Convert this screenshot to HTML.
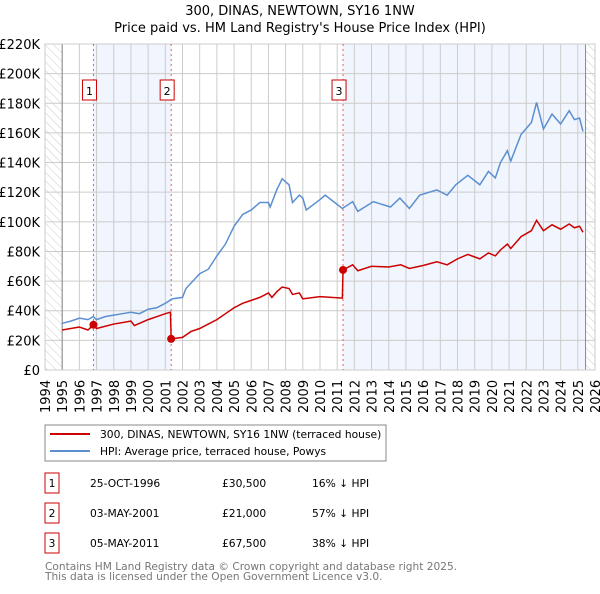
<!DOCTYPE html>
<html><head><meta charset="utf-8"><style>
body{margin:0;background:#fff;font-family:"DejaVu Sans","Liberation Sans",sans-serif;}
svg text{font-family:"DejaVu Sans","Liberation Sans",sans-serif;}
</style></head><body>
<svg id="c" width="600" height="590" xmlns="http://www.w3.org/2000/svg">
<defs><pattern id="hatch" width="6" height="6" patternUnits="userSpaceOnUse" patternTransform="rotate(-45)"><line x1="0" y1="0" x2="0" y2="6" stroke="#ccc" stroke-width="1"/></pattern></defs>
<text x="300" y="15" text-anchor="middle" font-size="13">300, DINAS, NEWTOWN, SY16 1NW</text>
<text x="300" y="32" text-anchor="middle" font-size="13">Price paid vs. HM Land Registry's House Price Index (HPI)</text>
<g id="plot"></g>
<rect x="45" y="425" width="341" height="36" fill="#fff" stroke="#888"/>
<line x1="50" y1="434" x2="90" y2="434" stroke="#cc0000" stroke-width="2"/>
<text x="100" y="438" font-size="10.7">300, DINAS, NEWTOWN, SY16 1NW (terraced house)</text>
<line x1="50" y1="451" x2="90" y2="451" stroke="#5b8fd0" stroke-width="2"/>
<text x="100" y="455" font-size="10.7">HPI: Average price, terraced house, Powys</text>
<g id="tbl" font-size="10.7"></g>
<text x="45" y="570" font-size="10.6" fill="#777">Contains HM Land Registry data © Crown copyright and database right 2025.</text>
<text x="45" y="580" font-size="10.6" fill="#777">This data is licensed under the Open Government Licence v3.0.</text>
</svg>
<script>
const yTicks=[0,20,40,60,80,100,120,140,160,180,200,220];
const years=[1994,1995,1996,1997,1998,1999,2000,2001,2002,2003,2004,2005,2006,2007,2008,2009,2010,2011,2012,2013,2014,2015,2016,2017,2018,2019,2020,2021,2022,2023,2024,2025,2026];
const hpiT=[1995,1995.5,1996,1996.5,1996.8,1997,1997.5,1998,1998.5,1999,1999.5,2000,2000.5,2001,2001.4,2002,2002.2,2002.6,2003,2003.5,2004,2004.5,2005,2005.5,2006,2006.5,2007,2007.1,2007.5,2007.8,2008.2,2008.4,2008.8,2009,2009.2,2010,2010.3,2011.3,2011.9,2012.2,2013.1,2014.1,2014.65,2015.2,2015.8,2016.8,2017.4,2017.9,2018.6,2019.3,2019.8,2020.2,2020.5,2020.9,2021.1,2021.7,2022.3,2022.6,2023.0,2023.5,2024.0,2024.5,2024.8,2025.1,2025.3];
const hpiV=[31.5,33,35,34,36,34,36,37,38,39,38,41,42,45,48,49,55,60,65,68,77,85,97,105,108,113,113,110,122,129,125,113,118,116,108,115,118,109,113.6,107,113.6,110,116,109,118,121.5,118,125,131.4,125,134,129.6,140,148,141,159,167,180.6,162.6,172.7,166,175,169,170,161];
const ppT=[1995,1996,1996.5,1996.82,1997,1998,1999,1999.2,2000,2000.5,2001,2001.3,2001.34,2002,2002.5,2003,2003.5,2004,2004.5,2005,2005.5,2006,2006.5,2007,2007.2,2007.5,2007.8,2008.2,2008.4,2008.8,2009,2010,2011.3,2011.34,2011.9,2012.2,2013,2014,2014.7,2015.2,2016,2016.8,2017.4,2018,2018.6,2019.3,2019.8,2020.2,2020.5,2020.9,2021.1,2021.7,2022.3,2022.6,2023.0,2023.5,2024.0,2024.5,2024.8,2025.1,2025.3];
const ppV=[27,29,27,30.5,28,31,33,30,34,36,38,39,21,22,26,28,31,34,38,42,45,47,49,52,49,53,56,55,51,52,48,49.5,48.5,67.5,71,67,70,69.5,71,68.5,70.5,73,71,75,78,75,79,77,81,85,82,90,94,101,94,98,95,98.5,96,97,93];
const saleT=[1996.82,2001.34,2011.34];
const saleV=[30.5,21,67.5];
const saleLabels=["1","2","3"];
const saleDates=["25-OCT-1996","03-MAY-2001","05-MAY-2011"];
const salePrices=["£30,500","£21,000","£67,500"];
const saleHpi=["16% ↓ HPI","57% ↓ HPI","38% ↓ HPI"];
const dataEnd=2025.45;

const X0=45,X1=595,Y0=370,Y1=44;
const x=t=>X0+(t-1994)/32*(X1-X0);
const y=v=>Y0-v/220*(Y0-Y1);
const NS="http://www.w3.org/2000/svg";
const plot=document.getElementById('plot');
function mk(tag,attrs,parent){const e=document.createElementNS(NS,tag);for(const k in attrs)e.setAttribute(k,attrs[k]);(parent||plot).appendChild(e);return e;}

let r;
r=mk('rect',{x:x(saleT[0]),y:Y1,width:x(saleT[1])-x(saleT[0]),height:Y0-Y1,fill:'#eef3fc',opacity:0.8});


r=mk('rect',{x:x(saleT[2]),y:Y1,width:x(dataEnd)-x(saleT[2]),height:Y0-Y1,fill:'#eef3fc',opacity:0.8});


r=mk('rect',{x:X0,y:Y1,width:x(1995)-X0,height:Y0-Y1,fill:'url(#hatch)'});


r=mk('rect',{x:x(dataEnd),y:Y1,width:X1-x(dataEnd),height:Y0-Y1,fill:'url(#hatch)'});



yTicks.forEach(v=>{
  const l=mk('line',{x1:X0,x2:X1,y1:y(v),y2:y(v),stroke:'#ccc','stroke-width':1});
  
  
  const t=mk('text',{x:40,y:y(v)+5,'text-anchor':'end','font-size':13});
  t.textContent=v===0?'£0':'£'+v+'K';
  
  
});
years.forEach(yr=>{
  const l=mk('line',{x1:x(yr),x2:x(yr),y1:Y1,y2:Y0,stroke:'#ccc','stroke-width':1});
  
  
  const t=mk('text',{x:0,y:0,'font-size':13,transform:`translate(${x(yr)+5},413) rotate(-90)`});
  t.textContent=yr;
  
  
});
let b=mk('line',{x1:x(1995),x2:x(1995),y1:Y1,y2:Y0,stroke:'#888'});


b=mk('line',{x1:x(dataEnd),x2:x(dataEnd),y1:Y1,y2:Y0,stroke:'#888'});


b=mk('rect',{x:X0,y:Y1,width:X1-X0,height:Y0-Y1,fill:'none',stroke:'#ccc'});



saleT.forEach((t,i)=>{
  const l=mk('line',{x1:x(t),x2:x(t),y1:Y1,y2:Y0,stroke:'#e06060','stroke-width':1,'stroke-dasharray':'2,3'});
  
  
  const bx=mk('rect',{x:x(t)-11,y:80,width:14,height:20,fill:'#fff',stroke:'#cc0000'});
  
  
  const tx=mk('text',{x:x(t)-4,y:95,'text-anchor':'middle','font-size':11});
  tx.textContent=saleLabels[i];
  
  
});

const hp=mk('polyline',{points:hpiT.map((t,i)=>x(t)+','+y(hpiV[i])).join(' '),fill:'none',stroke:'#5b8fd0','stroke-width':1.5});


const pp=mk('polyline',{points:ppT.map((t,i)=>x(t)+','+y(ppV[i])).join(' '),fill:'none',stroke:'#cc0000','stroke-width':1.5});


saleT.forEach((t,i)=>{
  const c=mk('circle',{cx:x(t),cy:y(saleV[i]),r:4,fill:'#cc0000'});
  
  
});

const tbl=document.getElementById('tbl');
saleT.forEach((t,i)=>{
  const cy=483+i*30;
  const bx=mk('rect',{x:45,y:cy-10,width:14,height:20,fill:'#fff',stroke:'#cc0000'},tbl);
  
  
  const vals=[[52,saleLabels[i],'middle','table-sale-number'],[90,saleDates[i],'start','table-sale-date'],[222,salePrices[i],'start','table-sale-price'],[312,saleHpi[i],'start','table-sale-hpi-diff']];
  vals.forEach(v=>{
    const tx=mk('text',{x:v[0],y:cy+4,'text-anchor':v[2]},tbl);
    tx.textContent=v[1];
    
    
  });
});
</script>
</body></html>
